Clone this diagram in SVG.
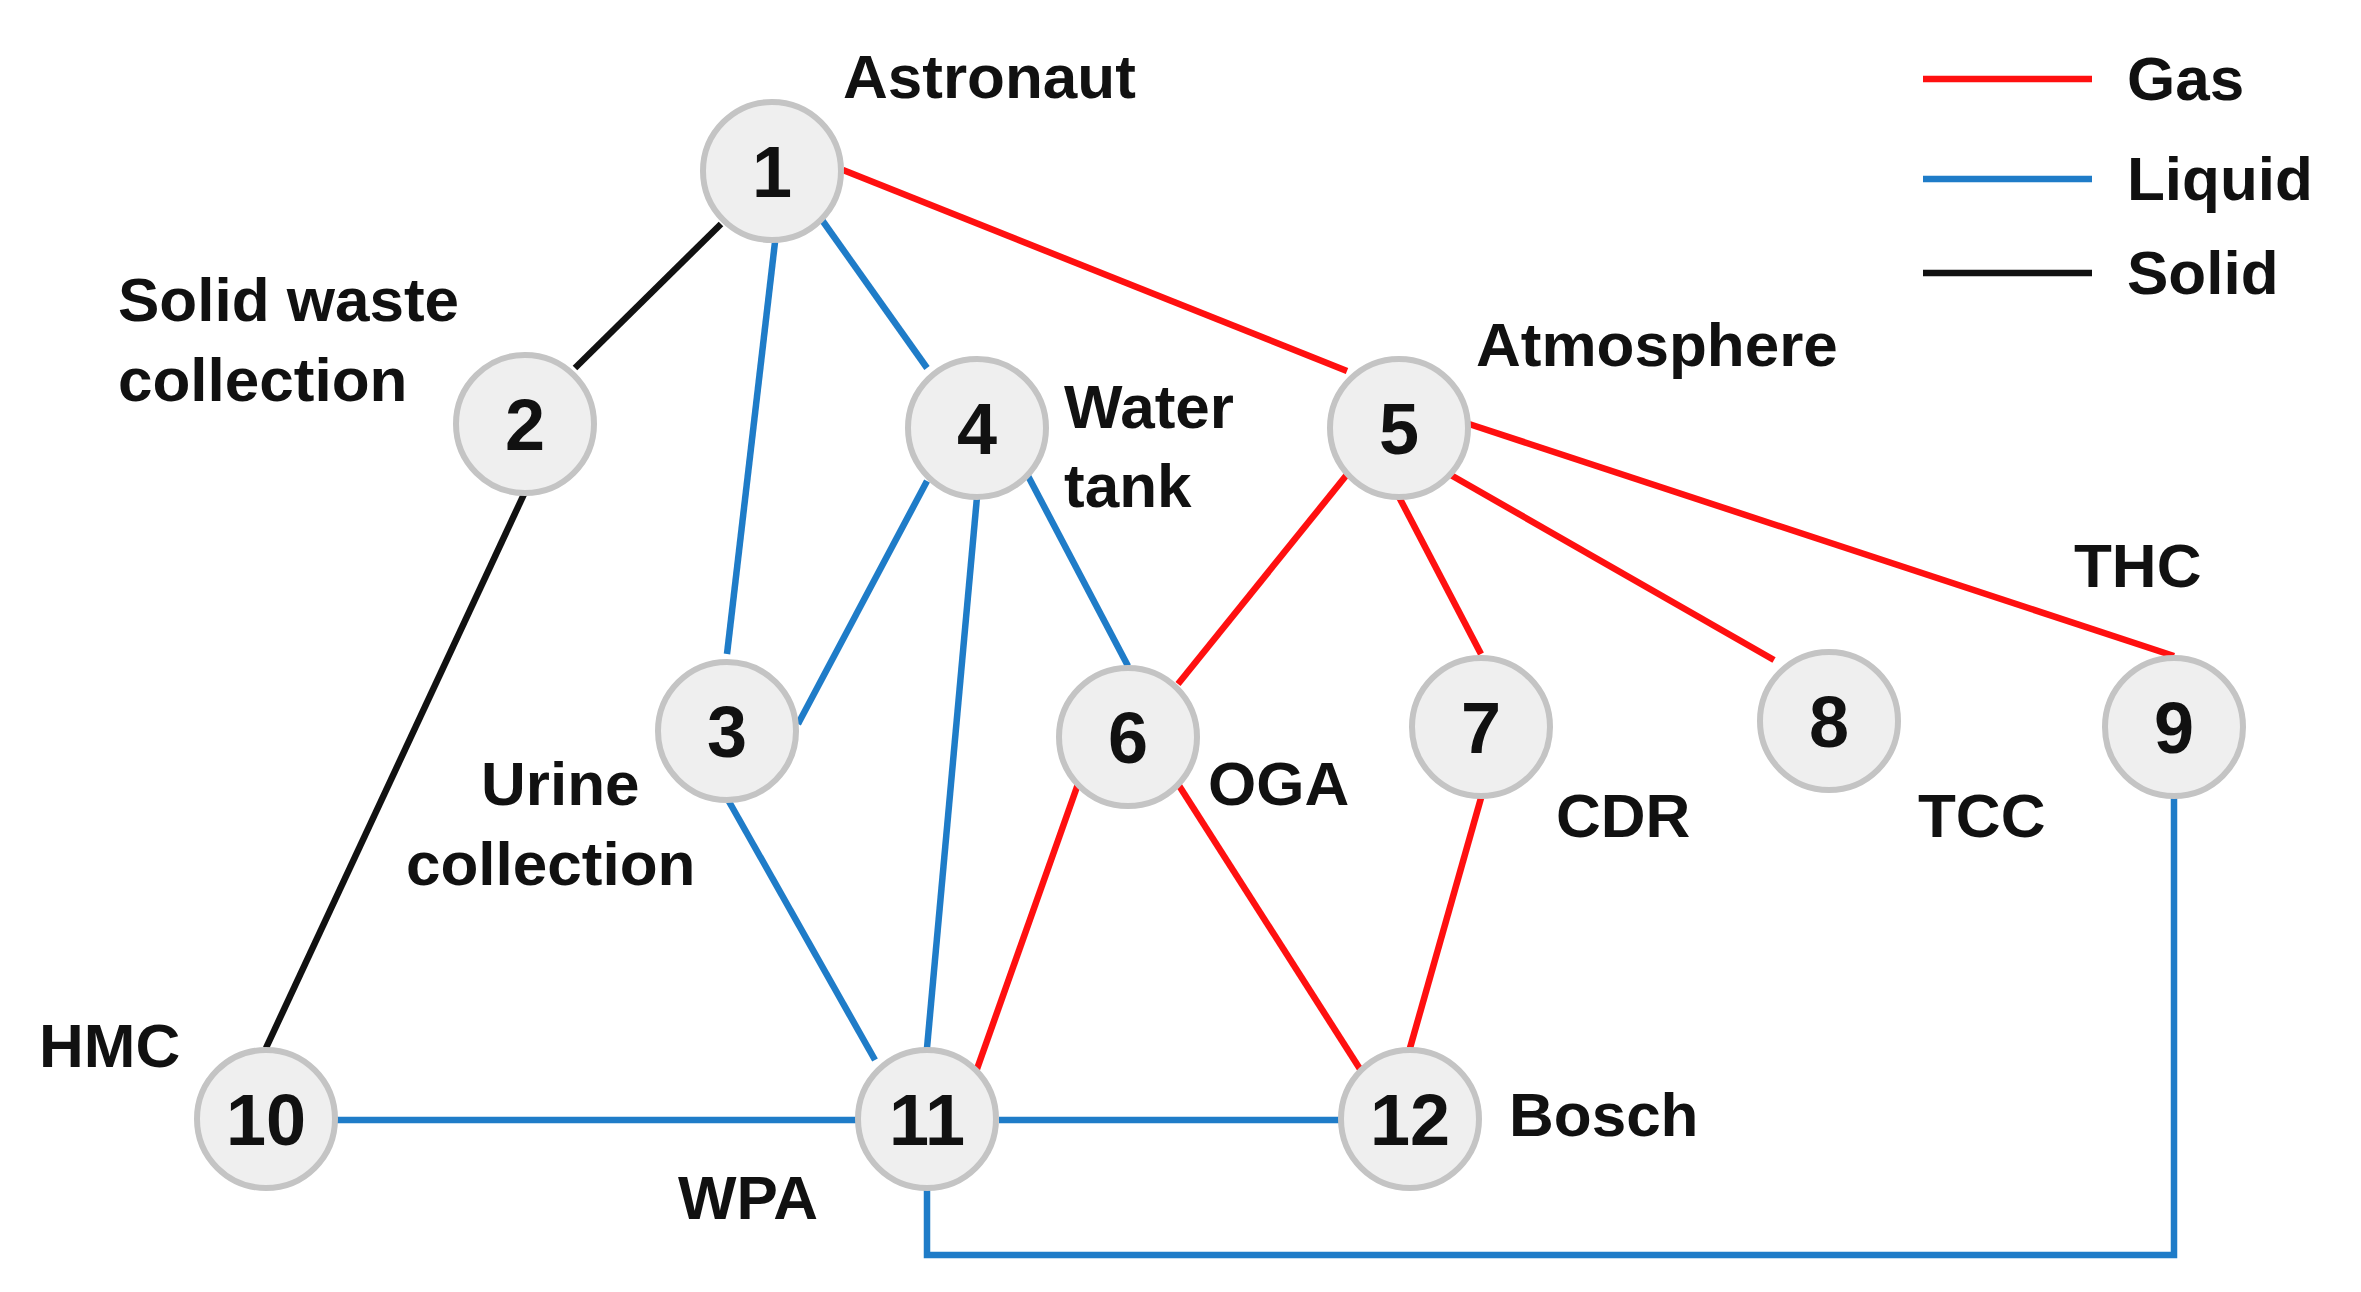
<svg xmlns="http://www.w3.org/2000/svg" width="2361" height="1292" viewBox="0 0 2361 1292">
<style>
.e{stroke-width:6.5;fill:none}
.g{stroke:#ff1010}.l{stroke:#1f7cc8}.s{stroke:#111}
circle{fill:#efefef;stroke:#c4c4c4;stroke-width:6}
text{font-family:"Liberation Sans",Arial,sans-serif;font-weight:bold;fill:#111}
.n{font-size:72px;text-anchor:middle}
.t{font-size:62px}
</style>
<rect width="2361" height="1292" fill="#fff"/>
<g id="connectors">
<line class="e s" x1="721" y1="224" x2="575" y2="368"/>
<line class="e l" x1="775" y1="242" x2="727" y2="654"/>
<line class="e l" x1="822" y1="220" x2="927" y2="368"/>
<line class="e g" x1="843" y1="170" x2="1347" y2="371"/>
<line class="e s" x1="525" y1="492" x2="266" y2="1048"/>
<line class="e l" x1="927" y1="481" x2="798" y2="724"/>
<line class="e l" x1="977" y1="497" x2="927" y2="1048"/>
<line class="e l" x1="1027" y1="474" x2="1128" y2="666"/>
<line class="e g" x1="1349" y1="472" x2="1178" y2="684"/>
<line class="e g" x1="1399" y1="497" x2="1481" y2="654"/>
<line class="e g" x1="1449" y1="474" x2="1774" y2="660"/>
<line class="e g" x1="1469" y1="424" x2="2174" y2="656"/>
<line class="e l" x1="727" y1="798" x2="875" y2="1060"/>
<line class="e g" x1="1078" y1="784" x2="977" y2="1069"/>
<line class="e g" x1="1178" y1="784" x2="1360" y2="1069"/>
<line class="e g" x1="1481" y1="798" x2="1410" y2="1048"/>
<line class="e l" x1="336" y1="1120" x2="857" y2="1120"/>
<line class="e l" x1="999" y1="1120" x2="1340" y2="1120"/>
<polyline class="e l" points="927,1190 927,1255 2174,1255 2174,798"/>
</g>
<g id="legend">
<line class="e g" x1="1923" y1="79" x2="2092" y2="79"/>
<line class="e l" x1="1923" y1="179" x2="2092" y2="179"/>
<line class="e s" x1="1923" y1="273" x2="2092" y2="273"/>
<text class="t" x="2127" y="100">Gas</text>
<text class="t" x="2127" y="200">Liquid</text>
<text class="t" x="2127" y="294">Solid</text>
</g>
<g id="n1"><circle cx="772" cy="171" r="69"/><text class="n" x="772" y="197">1</text><text class="t" x="843" y="98">Astronaut</text></g>
<g id="n2"><circle cx="525" cy="424" r="69"/><text class="n" x="525" y="450">2</text><text class="t" x="118" y="321">Solid waste</text><text class="t" x="118" y="401">collection</text></g>
<g id="n3"><circle cx="727" cy="731" r="69"/><text class="n" x="727" y="757">3</text><text class="t" x="481" y="805">Urine</text><text class="t" x="406" y="885">collection</text></g>
<g id="n4"><circle cx="977" cy="428" r="69"/><text class="n" x="977" y="454">4</text><text class="t" x="1064" y="428">Water</text><text class="t" x="1064" y="507">tank</text></g>
<g id="n5"><circle cx="1399" cy="428" r="69"/><text class="n" x="1399" y="454">5</text><text class="t" x="1476" y="366">Atmosphere</text></g>
<g id="n6"><circle cx="1128" cy="737" r="69"/><text class="n" x="1128" y="763">6</text><text class="t" x="1208" y="805">OGA</text></g>
<g id="n7"><circle cx="1481" cy="727" r="69"/><text class="n" x="1481" y="753">7</text><text class="t" x="1556" y="837">CDR</text></g>
<g id="n8"><circle cx="1829" cy="721" r="69"/><text class="n" x="1829" y="747">8</text><text class="t" x="1918" y="837">TCC</text></g>
<g id="n9"><circle cx="2174" cy="727" r="69"/><text class="n" x="2174" y="753">9</text><text class="t" x="2074" y="587">THC</text></g>
<g id="n10"><circle cx="266" cy="1119" r="69"/><text class="n" x="266" y="1145">10</text><text class="t" x="39" y="1067">HMC</text></g>
<g id="n11"><circle cx="927" cy="1119" r="69"/><text class="n" x="927" y="1145">11</text><text class="t" x="678" y="1219">WPA</text></g>
<g id="n12"><circle cx="1410" cy="1119" r="69"/><text class="n" x="1410" y="1145">12</text><text class="t" x="1509" y="1136">Bosch</text></g>
</svg>
